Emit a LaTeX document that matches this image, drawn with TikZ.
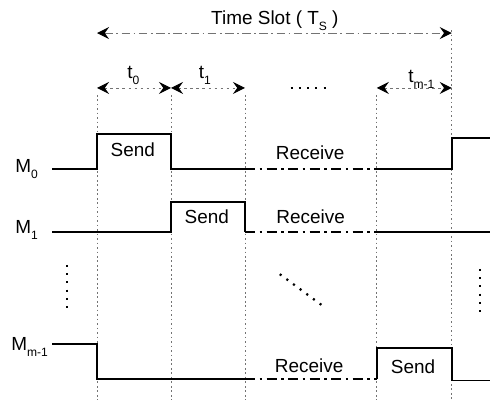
\documentclass[tikz,border=0pt]{standalone}
\usepackage{fontspec}
\setmainfont{Liberation Sans}
\usetikzlibrary{arrows.meta}
\newcommand{\lowsub}[1]{\raisebox{-0.6ex}{\scriptsize #1}}

\begin{document}
\begin{tikzpicture}[
    both/.style={arrows={Stealth[length=7pt,width=7pt,inset=2.5pt,black,line width=0.6pt]-Stealth[length=7pt,width=7pt,inset=2.5pt,black,line width=0.6pt]}},
    signal/.style={black, line width=1pt},
    idle/.style={black, line width=1pt, dash pattern=on 6pt off 2.5pt on 1.5pt off 2.5pt},
    guide/.style={black!55, line width=0.4pt, dash pattern=on 1pt off 1.6pt},
    span/.style={black!55, line width=0.4pt, dash pattern=on 1.5pt off 2pt},
    slotline/.style={black!55, line width=0.5pt, dash pattern=on 5pt off 2pt on 1pt off 2pt},
    dots/.style={line width=1.3pt, dash pattern=on 1.2pt off 3.6pt},
    lbl/.style={font=\fontsize{11}{13}\selectfont, inner sep=1pt}]
      \useasboundingbox (0,0) rectangle (10,8.265);

      % time marks
      \coordinate (a) at (1.98,0);
      \coordinate (b) at (3.49,0);
      \coordinate (c) at (5.0,0);
      \coordinate (d) at (7.69,0);
      \coordinate (e) at (9.22,0);

      % guide lines
      \foreach \x in {1.98,3.49,5.0,7.69}
        \draw[guide] (\x,6.33) -- (\x,0.1);
      \draw[guide] (9.22,7.65) -- (9.22,0.1);

      % time slot
      \draw[slotline, both] (1.98,7.59) -- (9.22,7.59);
      \node[lbl] (slot) at (5.61,7.84) {Time Slot ( T\lowsub{S} )};

      % sub slots
      \draw[span, both] (1.98,6.47) -- (3.49,6.47);
      \draw[span, both] (3.49,6.47) -- (5.0,6.47);
      \draw[span, both] (7.69,6.47) -- (9.22,6.47);
      \node[lbl] (t0) at (2.72,6.72) {t\lowsub{0}};
      \node[lbl] (t1) at (4.18,6.72) {t\lowsub{1}};
      \node[lbl] (tm) at (8.6,6.64) {t\lowsub{m-1}};
      \draw[dots] (5.93,6.47) -- (6.72,6.47);

      % M0
      \node[lbl, anchor=base west] (m0) at (0.27,4.74) {M\lowsub{0}};
      \draw[signal] (1.07,4.82) -- (1.98,4.82) -- (1.98,5.53) -- (3.49,5.53) -- (3.49,4.82) -- (5.0,4.82);
      \draw[idle] (5.0,4.82) -- (7.69,4.82);
      \draw[signal] (7.69,4.82) -- (9.22,4.82) -- (9.22,5.45) -- (10,5.45);
      \node[lbl] (send0) at (2.71,5.2) {Send};
      \node[lbl] (recv0) at (6.33,5.14) {Receive};

      % M1
      \node[lbl, anchor=base west] (m1) at (0.27,3.5) {M\lowsub{1}};
      \draw[signal] (1.07,3.53) -- (3.49,3.53) -- (3.49,4.14) -- (5.0,4.14) -- (5.0,3.53);
      \draw[idle] (5.0,3.53) -- (7.69,3.53);
      \draw[signal] (7.69,3.53) -- (10,3.53);
      \node[lbl] (send1) at (4.22,3.84) {Send};
      \node[lbl] (recv1) at (6.34,3.84) {Receive};

      % dots between rows
      \draw[dots] (1.37,2.86) -- (1.37,1.98);
      \draw[dots] (9.8,2.78) -- (9.8,1.9);
      \draw[dots] (5.71,2.67) -- (6.59,2.02);

      % Mm-1
      \node[lbl, anchor=base west] (mm) at (0.19,1.12) {M\lowsub{m-1}};
      \draw[signal] (1.07,1.25) -- (1.98,1.25) -- (1.98,0.53) -- (5.0,0.53);
      \draw[idle] (5.0,0.53) -- (7.69,0.53);
      \draw[signal] (7.69,0.53) -- (7.69,1.17) -- (9.22,1.17) -- (9.22,0.5) -- (10,0.5);
      \node[lbl] (recvm) at (6.31,0.8) {Receive};
      \node[lbl] (sendm) at (8.43,0.78) {Send};
\end{tikzpicture}
\end{document}
